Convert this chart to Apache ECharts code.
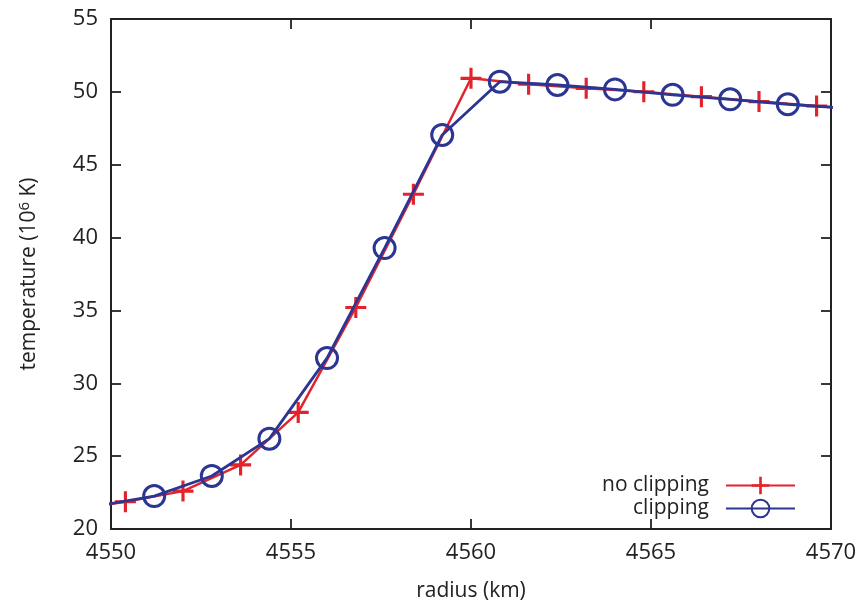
<!DOCTYPE html>
<html>
<head>
<meta charset="utf-8">
<script src="https://cdn.jsdelivr.net/npm/echarts@6/dist/echarts.min.js"></script>
<style>html,body{margin:0;padding:0;background:#fff;}#c{width:862px;height:603px;}</style>
</head>
<body>
<div id="c"></div>
<script>
// radius (km) and temperature (10^6 K)
const noClipX = [4548.8, 4550.4, 4552.0, 4553.6, 4555.2, 4556.8, 4558.4, 4560.0, 4561.6, 4563.2, 4564.8, 4566.4, 4568.0, 4569.6, 4571.2];
const noClipY = [21.3, 21.87, 22.6, 24.4, 28.0, 35.2, 42.97, 50.93, 50.52, 50.24, 50.01, 49.67, 49.33, 49.03, 48.71];
const clipX = [4549.6, 4551.2, 4552.8, 4554.4, 4556.0, 4557.6, 4559.2, 4560.8, 4562.4, 4564.0, 4565.6, 4567.2, 4568.8, 4570.4];
const clipY = [21.58, 22.26, 23.64, 26.2, 31.73, 39.28, 47.04, 50.70, 50.47, 50.17, 49.80, 49.49, 49.15, 48.87];
const xTicks = [4550, 4555, 4560, 4565, 4570];
const yTicks = [20, 25, 30, 35, 40, 45, 50, 55];
const seriesNames = ['no clipping', 'clipping'];

const RED = '#e3232c';
const BLUE = '#2b3592';
const FONT = 'Open Sans';
const TXT = '#222';

const zip = (a, b) => a.map((v, i) => [v, b[i]]);
const plus = 'path://M8.5,0h3v20h-3zM0,8.5h20v3h-20z';

const axisLine = { show: true, lineStyle: { color: '#222', width: 2 } };
const axisTick = { show: true, inside: true, length: 10, lineStyle: { color: '#222', width: 1.8 } };

const chart = echarts.init(document.getElementById('c'), null, { renderer: 'canvas' });
chart.setOption({
  animation: false,
  backgroundColor: '#fff',
  grid: { left: 111, right: 31, top: 19, bottom: 74, containLabel: false, outerBoundsMode: 'none' },
  xAxis: [{
    type: 'value', min: xTicks[0], max: xTicks[xTicks.length - 1], interval: 5,
    position: 'bottom',
    name: 'radius (km)', nameLocation: 'middle', nameGap: 52,
    nameTextStyle: { fontFamily: FONT, fontSize: 21, color: TXT },
    axisLine, axisTick, splitLine: { show: false },
    axisLabel: { fontFamily: FONT, fontSize: 22, color: TXT, margin: 13, formatter: v => String(v) }
  }, {
    type: 'value', min: xTicks[0], max: xTicks[xTicks.length - 1], interval: 5,
    position: 'top', axisLine, axisTick, splitLine: { show: false },
    axisLabel: { show: false }
  }],
  yAxis: [{
    type: 'value', min: yTicks[0], max: yTicks[yTicks.length - 1], interval: 5,
    position: 'left',
    name: '{a|temperature (10}{s|6}{a| K)}', nameLocation: 'middle', nameGap: 70, nameRotate: 90,
    nameTextStyle: {
      fontFamily: FONT, color: TXT,
      rich: {
        a: { fontFamily: FONT, fontSize: 21, color: TXT },
        s: { fontFamily: FONT, fontSize: 15, color: TXT, verticalAlign: 'top', padding: [0, 0, 9, 0] }
      }
    },
    axisLine, axisTick, splitLine: { show: false },
    axisLabel: { fontFamily: FONT, fontSize: 22, color: TXT, margin: 13, formatter: v => String(v) }
  }, {
    type: 'value', min: yTicks[0], max: yTicks[yTicks.length - 1], interval: 5,
    position: 'right', axisLine, axisTick, splitLine: { show: false },
    axisLabel: { show: false }
  }],
  legend: {
    orient: 'vertical', align: 'right', right: 61, top: 470,
    itemWidth: 69, itemHeight: 22, itemGap: 2,
    textStyle: { fontFamily: FONT, fontSize: 21, color: TXT, padding: [0, 12, 0, 0] },
    data: seriesNames
  },
  series: [{
    name: seriesNames[0], type: 'line', xAxisIndex: 0, yAxisIndex: 0,
    data: zip(noClipX, noClipY), clip: true,
    symbol: plus, symbolSize: 21,
    itemStyle: { color: RED, borderWidth: 0 },
    lineStyle: { color: RED, width: 2.5 }, z: 2
  }, {
    name: seriesNames[1], type: 'line', xAxisIndex: 0, yAxisIndex: 0,
    data: zip(clipX, clipY), clip: true,
    symbol: 'circle', symbolSize: 21,
    itemStyle: { color: 'rgba(0,0,0,0)', borderColor: BLUE, borderWidth: 3 },
    lineStyle: { color: BLUE, width: 2.8 }, z: 3
  }]
});
</script>
</body>
</html>
